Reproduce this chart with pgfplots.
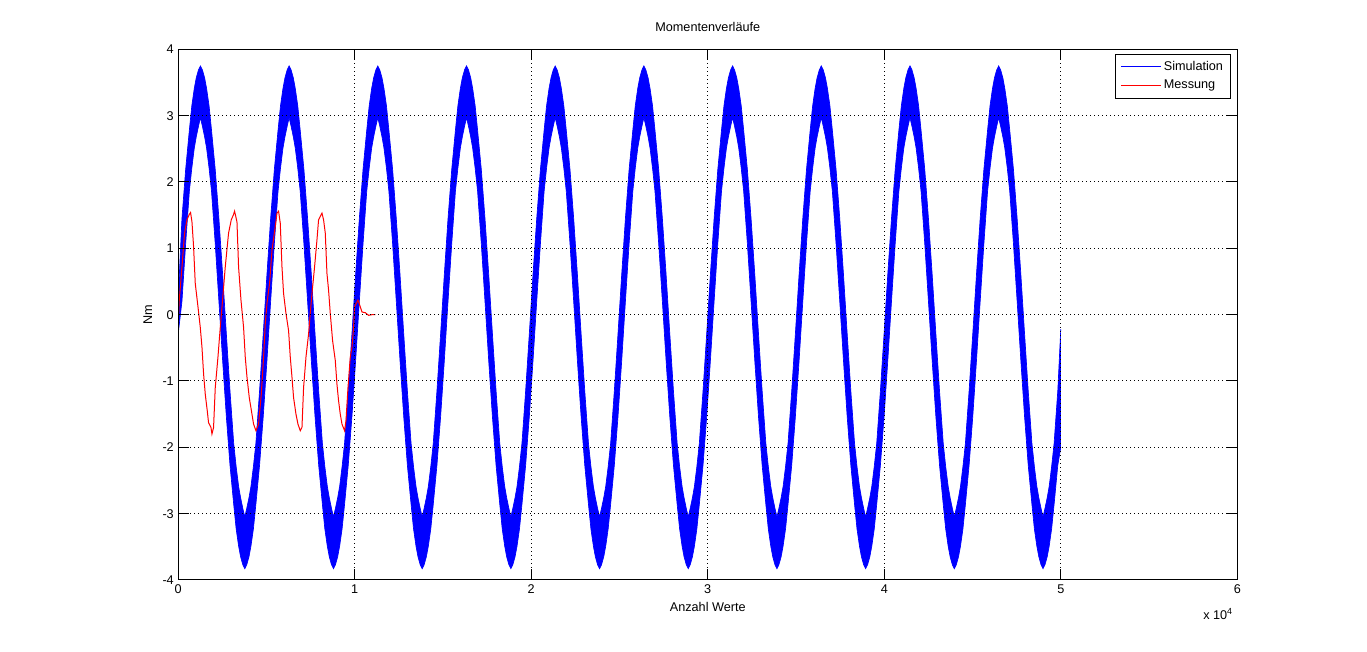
\documentclass[border=0pt]{standalone}
\usepackage{fontspec}
\setmainfont{Liberation Sans}
\usepackage{pgfplots}
\usepackage{pgfplotstable}
\pgfplotsset{compat=1.18}
\usepgfplotslibrary{fillbetween}

% Simulation: upper and lower edge of the blue band
\pgfplotstableread{
x u l
0 0.25 -0.28
209 1.45 0.20
419 2.19 1.07
628 2.78 1.86
768 3.15 2.21
907 3.41 2.51
1019 3.57 2.68
1145 3.69 2.84
1256 3.75 2.97
1368 3.69 2.84
1494 3.57 2.68
1605 3.41 2.51
1745 3.15 2.21
1884 2.78 1.86
2094 2.19 1.07
2303 1.45 0.20
2513 0.61 -0.69
2722 -0.28 -1.53
2931 -1.15 -2.27
3141 -1.94 -2.86
3280 -2.29 -3.23
3420 -2.59 -3.49
3532 -2.76 -3.65
3657 -2.92 -3.77
3769 -3.05 -3.83
3880 -2.92 -3.77
4006 -2.76 -3.65
4118 -2.59 -3.49
4257 -2.29 -3.23
4397 -1.94 -2.86
4606 -1.15 -2.27
4816 -0.28 -1.53
5025 0.61 -0.69
5234 1.45 0.20
5444 2.19 1.07
5653 2.78 1.86
5793 3.15 2.21
5932 3.41 2.51
6044 3.57 2.68
6170 3.69 2.84
6281 3.75 2.97
6393 3.69 2.84
6519 3.57 2.68
6630 3.41 2.51
6770 3.15 2.21
6909 2.78 1.86
7119 2.19 1.07
7328 1.45 0.20
7538 0.61 -0.69
7747 -0.28 -1.53
7956 -1.15 -2.27
8166 -1.94 -2.86
8305 -2.29 -3.23
8445 -2.59 -3.49
8557 -2.76 -3.65
8682 -2.92 -3.77
8794 -3.05 -3.83
8905 -2.92 -3.77
9031 -2.76 -3.65
9143 -2.59 -3.49
9282 -2.29 -3.23
9422 -1.94 -2.86
9631 -1.15 -2.27
9841 -0.28 -1.53
10050 0.61 -0.69
10259 1.45 0.20
10469 2.19 1.07
10678 2.78 1.86
10818 3.15 2.21
10957 3.41 2.51
11069 3.57 2.68
11195 3.69 2.84
11306 3.75 2.97
11418 3.69 2.84
11544 3.57 2.68
11655 3.41 2.51
11795 3.15 2.21
11934 2.78 1.86
12144 2.19 1.07
12353 1.45 0.20
12563 0.61 -0.69
12772 -0.28 -1.53
12981 -1.15 -2.27
13191 -1.94 -2.86
13330 -2.29 -3.23
13470 -2.59 -3.49
13582 -2.76 -3.65
13707 -2.92 -3.77
13819 -3.05 -3.83
13930 -2.92 -3.77
14056 -2.76 -3.65
14168 -2.59 -3.49
14307 -2.29 -3.23
14447 -1.94 -2.86
14656 -1.15 -2.27
14866 -0.28 -1.53
15075 0.61 -0.69
15284 1.45 0.20
15494 2.19 1.07
15703 2.78 1.86
15843 3.15 2.21
15982 3.41 2.51
16094 3.57 2.68
16220 3.69 2.84
16331 3.75 2.97
16443 3.69 2.84
16569 3.57 2.68
16680 3.41 2.51
16820 3.15 2.21
16959 2.78 1.86
17169 2.19 1.07
17378 1.45 0.20
17588 0.61 -0.69
17797 -0.28 -1.53
18006 -1.15 -2.27
18216 -1.94 -2.86
18355 -2.29 -3.23
18495 -2.59 -3.49
18607 -2.76 -3.65
18732 -2.92 -3.77
18844 -3.05 -3.83
18955 -2.92 -3.77
19081 -2.76 -3.65
19193 -2.59 -3.49
19332 -2.29 -3.23
19472 -1.94 -2.86
19681 -1.15 -2.27
19891 -0.28 -1.53
20100 0.61 -0.69
20309 1.45 0.20
20519 2.19 1.07
20728 2.78 1.86
20868 3.15 2.21
21007 3.41 2.51
21119 3.57 2.68
21245 3.69 2.84
21356 3.75 2.97
21468 3.69 2.84
21594 3.57 2.68
21705 3.41 2.51
21845 3.15 2.21
21984 2.78 1.86
22194 2.19 1.07
22403 1.45 0.20
22613 0.61 -0.69
22822 -0.28 -1.53
23031 -1.15 -2.27
23241 -1.94 -2.86
23380 -2.29 -3.23
23520 -2.59 -3.49
23632 -2.76 -3.65
23757 -2.92 -3.77
23869 -3.05 -3.83
23980 -2.92 -3.77
24106 -2.76 -3.65
24218 -2.59 -3.49
24357 -2.29 -3.23
24497 -1.94 -2.86
24706 -1.15 -2.27
24916 -0.28 -1.53
25125 0.61 -0.69
25334 1.45 0.20
25544 2.19 1.07
25753 2.78 1.86
25893 3.15 2.21
26032 3.41 2.51
26144 3.57 2.68
26270 3.69 2.84
26381 3.75 2.97
26493 3.69 2.84
26619 3.57 2.68
26730 3.41 2.51
26870 3.15 2.21
27009 2.78 1.86
27219 2.19 1.07
27428 1.45 0.20
27638 0.61 -0.69
27847 -0.28 -1.53
28056 -1.15 -2.27
28266 -1.94 -2.86
28405 -2.29 -3.23
28545 -2.59 -3.49
28657 -2.76 -3.65
28782 -2.92 -3.77
28894 -3.05 -3.83
29005 -2.92 -3.77
29131 -2.76 -3.65
29243 -2.59 -3.49
29382 -2.29 -3.23
29522 -1.94 -2.86
29731 -1.15 -2.27
29941 -0.28 -1.53
30150 0.61 -0.69
30359 1.45 0.20
30569 2.19 1.07
30778 2.78 1.86
30918 3.15 2.21
31057 3.41 2.51
31169 3.57 2.68
31295 3.69 2.84
31406 3.75 2.97
31518 3.69 2.84
31644 3.57 2.68
31755 3.41 2.51
31895 3.15 2.21
32034 2.78 1.86
32244 2.19 1.07
32453 1.45 0.20
32663 0.61 -0.69
32872 -0.28 -1.53
33081 -1.15 -2.27
33291 -1.94 -2.86
33430 -2.29 -3.23
33570 -2.59 -3.49
33682 -2.76 -3.65
33807 -2.92 -3.77
33919 -3.05 -3.83
34030 -2.92 -3.77
34156 -2.76 -3.65
34268 -2.59 -3.49
34407 -2.29 -3.23
34547 -1.94 -2.86
34756 -1.15 -2.27
34966 -0.28 -1.53
35175 0.61 -0.69
35384 1.45 0.20
35594 2.19 1.07
35803 2.78 1.86
35943 3.15 2.21
36082 3.41 2.51
36194 3.57 2.68
36320 3.69 2.84
36431 3.75 2.97
36543 3.69 2.84
36669 3.57 2.68
36780 3.41 2.51
36920 3.15 2.21
37059 2.78 1.86
37269 2.19 1.07
37478 1.45 0.20
37688 0.61 -0.69
37897 -0.28 -1.53
38106 -1.15 -2.27
38316 -1.94 -2.86
38455 -2.29 -3.23
38595 -2.59 -3.49
38707 -2.76 -3.65
38832 -2.92 -3.77
38944 -3.05 -3.83
39055 -2.92 -3.77
39181 -2.76 -3.65
39293 -2.59 -3.49
39432 -2.29 -3.23
39572 -1.94 -2.86
39781 -1.15 -2.27
39991 -0.28 -1.53
40200 0.61 -0.69
40409 1.45 0.20
40619 2.19 1.07
40828 2.78 1.86
40968 3.15 2.21
41107 3.41 2.51
41219 3.57 2.68
41345 3.69 2.84
41456 3.75 2.97
41568 3.69 2.84
41694 3.57 2.68
41805 3.41 2.51
41945 3.15 2.21
42084 2.78 1.86
42294 2.19 1.07
42503 1.45 0.20
42713 0.61 -0.69
42922 -0.28 -1.53
43131 -1.15 -2.27
43341 -1.94 -2.86
43480 -2.29 -3.23
43620 -2.59 -3.49
43732 -2.76 -3.65
43857 -2.92 -3.77
43969 -3.05 -3.83
44080 -2.92 -3.77
44206 -2.76 -3.65
44318 -2.59 -3.49
44457 -2.29 -3.23
44597 -1.94 -2.86
44806 -1.15 -2.27
45016 -0.28 -1.53
45225 0.61 -0.69
45434 1.45 0.20
45644 2.19 1.07
45853 2.78 1.86
45993 3.15 2.21
46132 3.41 2.51
46244 3.57 2.68
46370 3.69 2.84
46481 3.75 2.97
46593 3.69 2.84
46719 3.57 2.68
46830 3.41 2.51
46970 3.15 2.21
47109 2.78 1.86
47319 2.19 1.07
47528 1.45 0.20
47738 0.61 -0.69
47947 -0.28 -1.53
48156 -1.15 -2.27
48366 -1.94 -2.86
48505 -2.29 -3.23
48645 -2.59 -3.49
48757 -2.76 -3.65
48882 -2.92 -3.77
48994 -3.05 -3.83
49105 -2.92 -3.77
49231 -2.76 -3.65
49343 -2.59 -3.49
49482 -2.29 -3.23
49622 -1.94 -2.86
49831 -1.15 -2.27
50000 -0.22 -2.00
}\simdata

\begin{document}
\fontsize{9.5}{11}\selectfont
\begin{tikzpicture}
\begin{axis}[
  at={(0pt,0pt)}, anchor=south west,
  scale only axis, width=794.25pt, height=398pt,
  xmin=0, xmax=60000, ymin=-4, ymax=4,
  xtick={0,10000,20000,30000,40000,50000,60000},
  xticklabels={0,1,2,3,4,5,6},
  ytick={-4,-3,-2,-1,0,1,2,3,4},
  scaled x ticks=false,
  /pgf/number format/assume math mode=true,
  tick align=inside, xtick pos=both, ytick pos=both,
  major tick length=8pt,
  every tick/.style={black, line width=0.75pt},
  axis line style={black, line width=0.75pt},
  grid=major,
  grid style={black, line width=0.75pt, dash pattern=on 0.75pt off 2.25pt},
  axis on top,
  title={Momentenverläufe},
  title style={at={(axis description cs:0.5,1)}, anchor=base, yshift=7pt},
  xlabel={Anzahl Werte},
  xlabel style={at={(axis description cs:0.5,0)}, anchor=base, yshift=-24pt},
  ylabel={Nm},
  ylabel style={at={(axis description cs:-0.0248,0.5)}, anchor=base},
  legend cell align=left,
  legend image code/.code={\draw[line width=0.75pt, #1] (0pt,0pt) -- (30pt,0pt);},
  legend style={at={(axis description cs:1,1)}, anchor=north east,
    xshift=-5pt, yshift=-3.5pt,
    inner xsep=4pt, inner ysep=3.5pt, row sep=1.8pt,
    nodes={inner sep=1.5pt, text height=7pt, text depth=2pt}},
]
\addplot[name path=U, color=blue, line width=0.5pt] table[x=x, y=u] {\simdata};
\addplot[name path=L, color=blue, line width=0.5pt, forget plot] table[x=x, y=l] {\simdata};
\addplot[blue, forget plot] fill between[of=U and L];
\addplot[color=red, line width=0.75pt] coordinates {
(20,0.0) (57,0.22) (210,0.72) (357,1.23) (493,1.43) (623,1.51) (697,1.54) (776,1.40)
(867,1.03) (963,0.47) (1116,0.12) (1247,-0.19) (1343,-0.49) (1434,-0.89) (1530,-1.20)
(1643,-1.45) (1717,-1.63) (1853,-1.70) (1909,-1.80) (2000,-1.70) (2096,-1.10) (2249,-0.64)
(2380,-0.19) (2510,0.22) (2663,0.72) (2850,1.23) (3003,1.43) (3133,1.51) (3190,1.56)
(3326,1.40) (3417,0.72) (3553,0.22) (3700,-0.19) (3796,-0.64) (3893,-0.94) (4023,-1.25)
(4176,-1.50) (4267,-1.65) (4403,-1.75) (4550,-1.65) (4703,-1.20) (4833,-0.64) (4929,-0.14)
(5026,0.17) (5173,0.47) (5309,0.97) (5496,1.33) (5592,1.53) (5683,1.56) (5779,1.38)
(5876,0.72) (5966,0.32) (6102,0.02) (6250,-0.24) (6346,-0.64) (6442,-0.94) (6533,-1.25)
(6669,-1.50) (6782,-1.65) (6913,-1.75) (7009,-1.70) (7100,-1.10) (7236,-0.64) (7383,-0.29)
(7479,0.02) (7576,0.32) (7723,0.72) (7859,1.13) (7949,1.43) (8142,1.53) (8233,1.43)
(8329,1.23) (8425,0.62) (8516,0.37) (8612,0.02) (8743,-0.39) (8896,-0.69) (8992,-1.05)
(9083,-1.30) (9179,-1.50) (9276,-1.65) (9423,-1.75) (9502,-1.60) (9616,-1.10) (9746,-0.64)
(9842,-0.49) (9933,-0.19) (9989,0.12) (10125,0.19) (10182,0.22) (10312,0.12) (10408,0.04)
(10595,0.03) (10783,-0.01) (10975,0.0) (11162,0.0)
};
\legend{Simulation, Messung}
\end{axis}
\node[anchor=base east] at (794.25pt,-30pt) {x 10\textsuperscript{4}};
\pgfresetboundingbox
\path[use as bounding box] (-133.7pt,-54pt) rectangle (891.55pt,435pt);
\end{tikzpicture}
\end{document}
